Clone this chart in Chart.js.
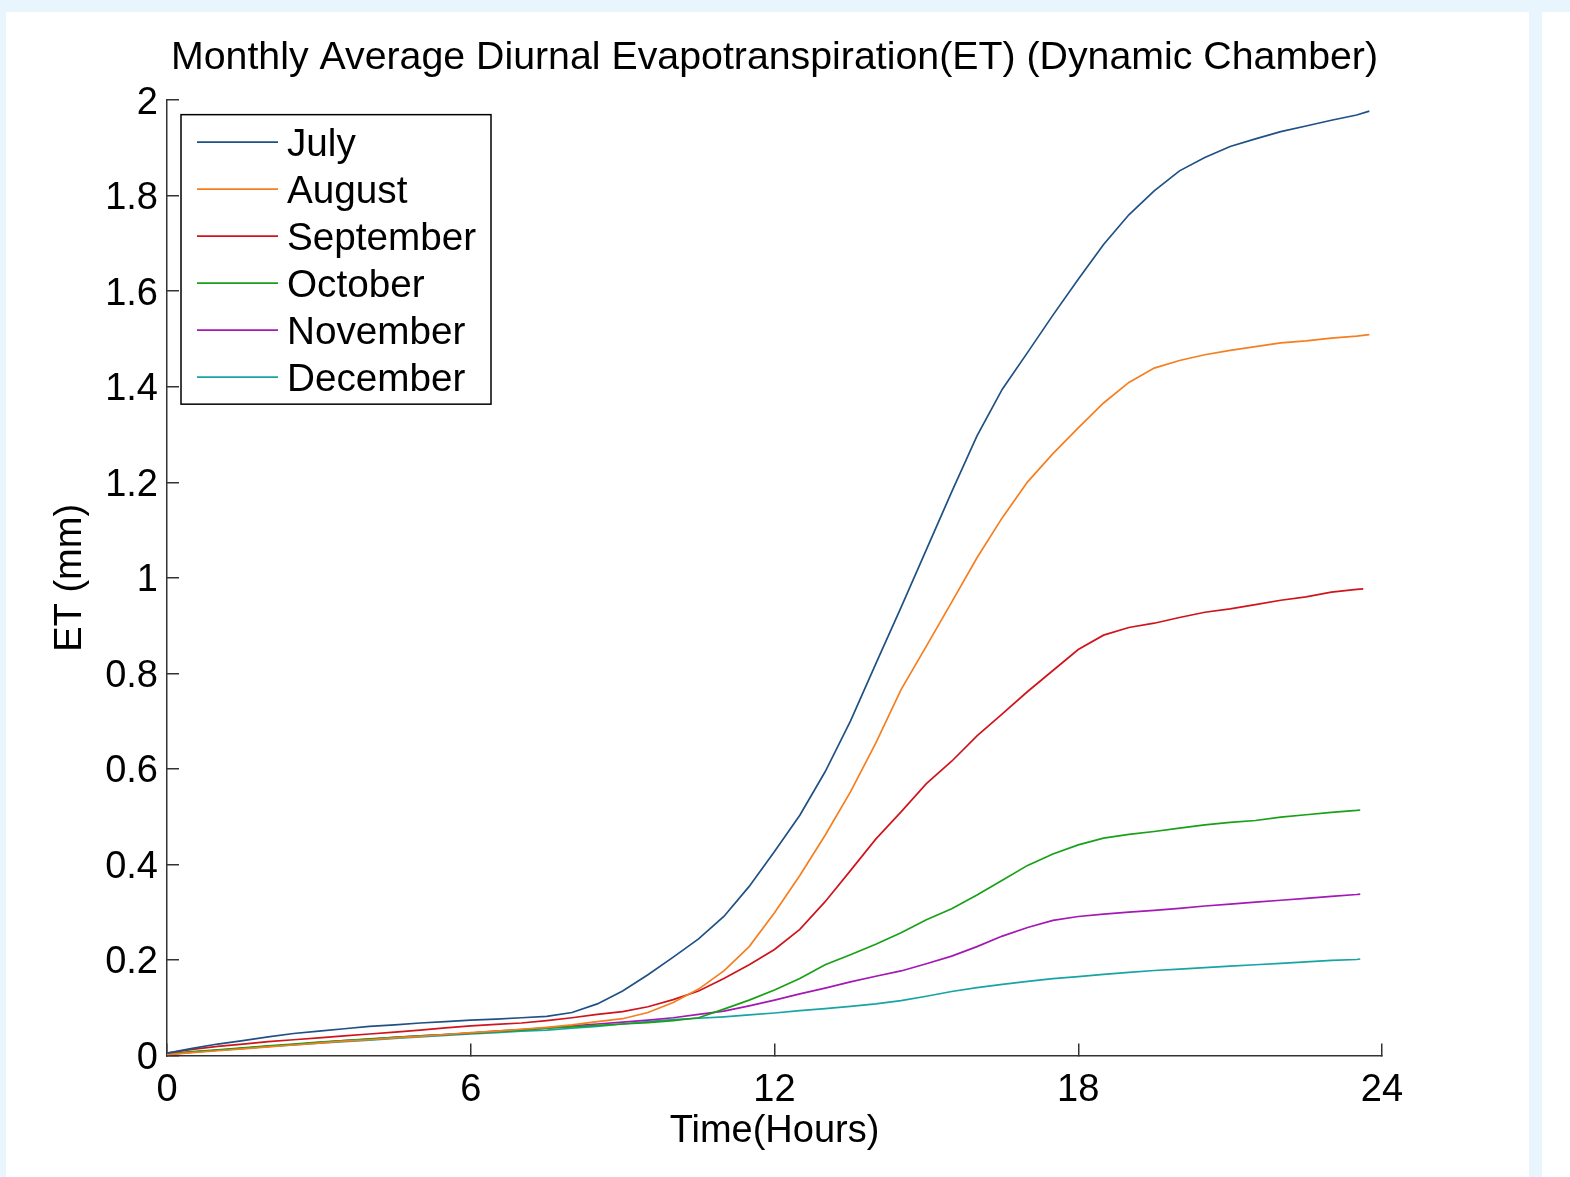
<!DOCTYPE html>
<html><head><meta charset="utf-8">
<script src="https://cdn.jsdelivr.net/npm/chart.js@4"></script>
<style>
html,body{margin:0;padding:0;background:#e9f5fc;width:1570px;height:1177px;overflow:hidden}
#card{position:absolute;left:6px;top:12px;width:1523px;height:1165px;background:#fff}
#strip{position:absolute;left:1542px;top:12px;width:28px;height:1165px;background:#fff}
canvas{position:absolute;left:0;top:0}
</style></head><body>
<div id="card"></div><div id="strip"></div>
<canvas id="c" width="1570" height="1177"></canvas>
<script>
// ---- data ----
const hours = [0,0.5,1,1.5,2,2.5,3,3.5,4,4.5,5,5.5,6,6.5,7,7.5,8,8.5,9,9.5,10,10.5,11,11.5,
               12,12.5,13,13.5,14,14.5,15,15.5,16,16.5,17,17.5,18,18.5,19,19.5,20,20.5,21,21.5,22,22.5,23,23.5];
const months = ['July','August','September','October','November','December'];
const endHours = [23.75, 23.75, 23.63, 23.57, 23.57, 23.57];
const july = [0.005,0.015,0.024,0.031,0.039,0.046,0.051,0.056,0.061,0.064,0.068,0.071,0.074,0.076,0.079,0.082,
              0.090,0.108,0.135,0.169,0.206,0.244,0.291,0.354,0.427,0.503,0.594,0.700,0.820,0.938,1.059,1.180,
              1.297,1.395,1.472,1.550,1.625,1.698,1.760,1.810,1.852,1.880,1.903,1.919,1.934,1.946,1.958,1.969,1.977];
const august = [0.002,0.006,0.010,0.014,0.018,0.022,0.026,0.030,0.033,0.037,0.040,0.044,0.048,0.051,0.055,0.059,
                0.064,0.071,0.077,0.090,0.111,0.139,0.177,0.228,0.299,0.377,0.461,0.552,0.654,0.766,0.857,0.949,
                1.042,1.126,1.201,1.260,1.314,1.366,1.409,1.439,1.455,1.467,1.476,1.484,1.492,1.496,1.502,1.506,1.509];
const september = [0.005,0.013,0.019,0.024,0.029,0.033,0.037,0.041,0.045,0.049,0.053,0.058,0.062,0.065,0.068,0.073,
                   0.079,0.086,0.092,0.102,0.117,0.135,0.161,0.190,0.222,0.264,0.322,0.387,0.453,0.510,0.569,0.616,
                   0.669,0.715,0.762,0.806,0.850,0.880,0.896,0.905,0.917,0.928,0.935,0.944,0.953,0.960,0.970,0.976,0.977];
const october = [0.003,0.008,0.012,0.016,0.020,0.024,0.028,0.031,0.035,0.038,0.041,0.044,0.047,0.050,0.053,0.057,
                 0.060,0.063,0.066,0.069,0.073,0.079,0.097,0.116,0.137,0.161,0.190,0.211,0.233,0.257,0.284,0.307,
                 0.336,0.367,0.398,0.422,0.441,0.455,0.463,0.469,0.476,0.483,0.488,0.492,0.499,0.504,0.509,0.513,0.514];
const november = [0.002,0.007,0.011,0.015,0.019,0.023,0.027,0.031,0.034,0.038,0.041,0.044,0.047,0.051,0.054,0.058,
                  0.062,0.066,0.070,0.074,0.079,0.086,0.093,0.104,0.116,0.129,0.141,0.154,0.166,0.177,0.192,0.208,
                  0.228,0.250,0.268,0.283,0.291,0.296,0.300,0.304,0.308,0.313,0.317,0.321,0.325,0.329,0.333,0.337,0.338];
const december = [0.003,0.007,0.011,0.015,0.019,0.022,0.026,0.029,0.032,0.036,0.039,0.042,0.045,0.048,0.051,0.053,
                  0.057,0.061,0.066,0.071,0.075,0.078,0.081,0.085,0.089,0.094,0.098,0.103,0.108,0.115,0.124,0.134,
                  0.142,0.149,0.155,0.161,0.165,0.170,0.174,0.178,0.181,0.184,0.187,0.190,0.193,0.196,0.199,0.201,0.202];
const xTickValues = [0,6,12,18,24];
const yTickValues = [0,0.2,0.4,0.6,0.8,1,1.2,1.4,1.6,1.8,2];
const yTickLabels = ['0','0.2','0.4','0.6','0.8','1','1.2','1.4','1.6','1.8','2'];

// ---- styles ----
const FONT = '"Liberation Sans", Arial, Helvetica, sans-serif';
const lineColors = ['#1f5185','#f57f20','#d0141c','#18a018','#a418b4','#18a4a4'];
const seriesList = [july, august, september, october, november, december];

function toPoints(vals, k){
  return vals.map((v,i)=>({x: i < hours.length ? hours[i] : endHours[k], y: v}));
}

const datasets = seriesList.map((vals,k)=>({
  label: months[k],
  data: toPoints(vals,k),
  borderColor: lineColors[k],
  backgroundColor: lineColors[k],
  borderWidth: 1.7,
  pointRadius: 0,
  tension: 0,
  fill: false
}));

const boxLegend = {
  id: 'boxLegend',
  afterDatasetsDraw(chart){
    const ctx = chart.ctx, a = chart.chartArea;
    const bx = a.left + 14, by = a.top + 14.5, bw = 310, bh = 289.5;
    ctx.save();
    ctx.fillStyle = '#fff';
    ctx.fillRect(bx, by, bw, bh);
    ctx.lineWidth = 1.5; ctx.strokeStyle = '#000';
    ctx.strokeRect(bx, by, bw, bh);
    ctx.font = '38.7px ' + FONT;
    ctx.textBaseline = 'alphabetic';
    chart.data.datasets.forEach((ds,i)=>{
      const y = by + 27.5 + 47*i;
      ctx.strokeStyle = ds.borderColor; ctx.lineWidth = 1.6;
      ctx.beginPath(); ctx.moveTo(bx + 16, y); ctx.lineTo(bx + 97, y); ctx.stroke();
      ctx.fillStyle = '#000';
      ctx.fillText(ds.label, bx + 106, y + 13.5);
    });
    ctx.restore();
  }
};

new Chart(document.getElementById('c'), {
  type: 'line',
  data: { datasets },
  plugins: [boxLegend],
  options: {
    responsive: false,
    animation: false,
    layout: { padding: { left: 20, right: 188, top: 0, bottom: 0 } },
    plugins: {
      legend: { display: false },
      tooltip: { enabled: false },
      title: {
        display: true,
        text: 'Monthly Average Diurnal Evapotranspiration(ET) (Dynamic Chamber)',
        color: '#000',
        fullSize: false,
        font: { family: FONT, size: 39.3, weight: 'normal', lineHeight: 1.2 },
        padding: { top: 35, bottom: 18 }
      }
    },
    scales: {
      x: {
        type: 'linear', position: 'bottom', min: 0, max: 24,
        afterBuildTicks: s => { s.ticks = xTickValues.map(v => ({ value: v })); },
        afterFit: s => { s.height = 121.5; },
        border: { display: true, color: '#333', width: 1.5 },
        grid: { display: true, drawOnChartArea: false, drawTicks: true, tickLength: -12, color: '#333', lineWidth: 1.5 },
        ticks: { color: '#000', padding: 24, autoSkip: false, maxRotation: 0,
                 font: { family: FONT, size: 38, lineHeight: 1.2 },
                 callback: v => String(v) },
        title: { display: true, text: 'Time(Hours)', color: '#000',
                 font: { family: FONT, size: 38, lineHeight: 1.2 }, padding: { top: 0, bottom: 23 } }
      },
      y: {
        type: 'linear', position: 'left', min: 0, max: 2,
        afterBuildTicks: s => { s.ticks = yTickValues.map(v => ({ value: v })); },
        afterFit: s => { s.width = 147; },
        border: { display: true, color: '#333', width: 1.5 },
        grid: { display: true, drawOnChartArea: false, drawTicks: true, tickLength: -12, color: '#333', lineWidth: 1.5 },
        ticks: { color: '#000', padding: 21, autoSkip: false, labelOffset: 3,
                 font: { family: FONT, size: 38, lineHeight: 1.2 },
                 callback: (v, i) => yTickLabels[i] },
        title: { display: true, text: 'ET (mm)', color: '#000',
                 font: { family: FONT, size: 38, lineHeight: 1.2 }, padding: { top: 28, bottom: 0 } }
      }
    }
  }
});
</script>
</body></html>
